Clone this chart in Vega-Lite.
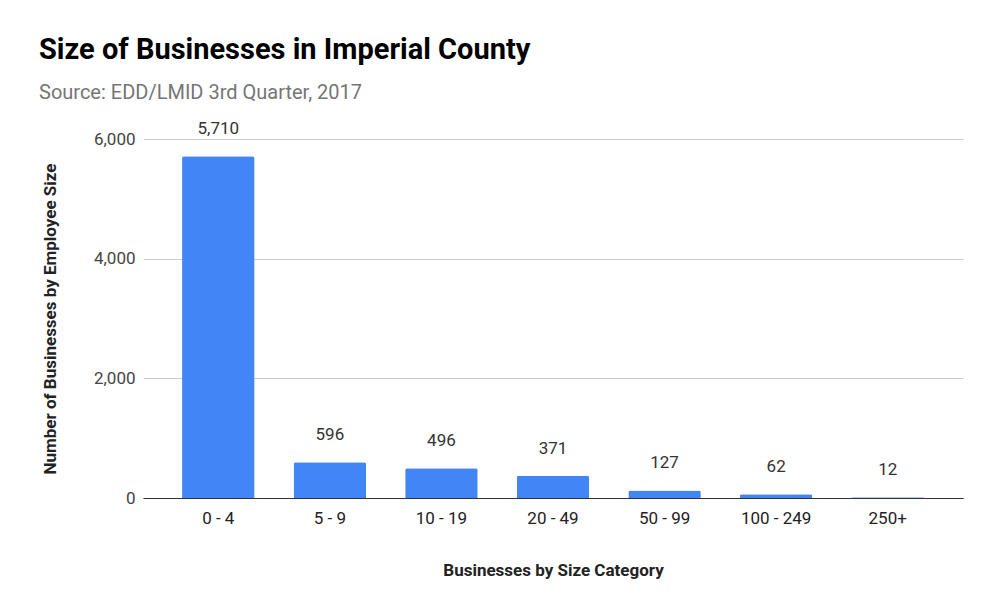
{
  "$schema": "https://vega.github.io/schema/vega-lite/v6.json",
  "autosize": {"type": "none"},
  "padding": {"left": 143, "top": 139, "right": 27, "bottom": 112},
  "width": 820,
  "height": 359,
  "background": "white",
  "title": {
    "text": "Size of Businesses in Imperial County",
    "subtitle": "Source: EDD/LMID 3rd Quarter, 2017",
    "anchor": "start",
    "frame": "group",
    "dx": -104,
    "offset": 17,
    "font": "Roboto",
    "fontSize": 29,
    "fontWeight": "bold",
    "color": "#000000",
    "subtitleFont": "Roboto",
    "subtitleFontSize": 20,
    "subtitleColor": "#757575",
    "subtitlePadding": 18
  },
  "data": {
    "values": [
      {"category": "0 - 4", "count": 5710},
      {"category": "5 - 9", "count": 596},
      {"category": "10 - 19", "count": 496},
      {"category": "20 - 49", "count": 371},
      {"category": "50 - 99", "count": 127},
      {"category": "100 - 249", "count": 62},
      {"category": "250+", "count": 12}
    ]
  },
  "encoding": {
    "x": {
      "field": "category",
      "type": "nominal",
      "sort": null,
      "scale": {"paddingInner": 0.35, "paddingOuter": 0.35},
      "axis": {
        "title": "Businesses by Size Category",
        "labelAngle": 0,
        "labelFont": "Roboto",
        "labelFontSize": 17,
        "labelColor": "#222222",
        "labelPadding": 12,
        "ticks": false,
        "domainColor": "#333333",
        "domainWidth": 1,
        "titleFont": "Roboto",
        "titleFontSize": 17,
        "titleFontWeight": "bold",
        "titleColor": "#222222",
        "titlePadding": 36
      }
    },
    "y": {
      "field": "count",
      "type": "quantitative",
      "scale": {"domain": [0, 6000]},
      "axis": {
        "title": "Number of Businesses by Employee Size",
        "values": [0, 2000, 4000, 6000],
        "format": ",d",
        "labelFont": "Roboto",
        "labelFontSize": 17,
        "labelColor": "#444444",
        "labelPadding": 8,
        "ticks": false,
        "domain": false,
        "gridColor": "#cccccc",
        "titleFont": "Roboto",
        "titleFontSize": 17,
        "titleFontWeight": "bold",
        "titleColor": "#222222",
        "titlePadding": 34
      }
    }
  },
  "layer": [
    {"mark": {"type": "bar", "color": "#4285F4", "cornerRadiusTopLeft": 2, "cornerRadiusTopRight": 2}},
    {
      "mark": {"type": "text", "baseline": "bottom", "dy": -18, "font": "Roboto", "fontSize": 17, "color": "#333333"},
      "encoding": {"text": {"field": "count", "type": "quantitative", "format": ",d"}}
    }
  ],
  "config": {"view": {"stroke": null}}
}
